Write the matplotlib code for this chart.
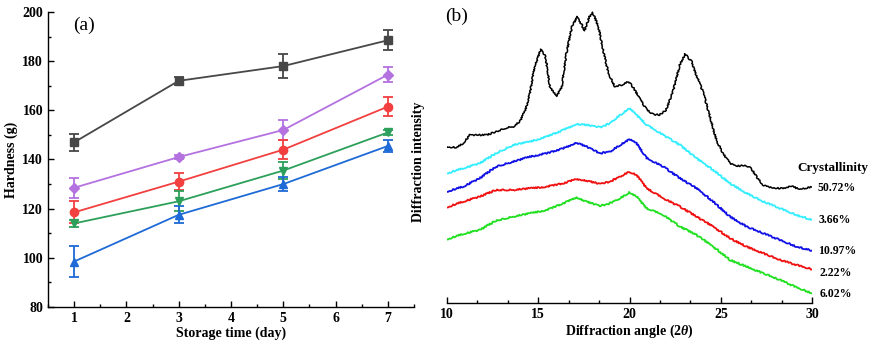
import numpy as np
import matplotlib.pyplot as plt
from matplotlib.ticker import MultipleLocator, AutoMinorLocator

plt.rcParams['font.family'] = ['Liberation Serif', 'DejaVu Serif']
plt.rcParams['mathtext.fontset'] = 'custom'
plt.rcParams['mathtext.it'] = 'Liberation Serif:italic:bold'
plt.rcParams['mathtext.rm'] = 'Liberation Serif:bold'

# ---------- (a) hardness data ----------
days = [1, 3, 5, 7]
black_h = [147, 172, 178, 188.5]
black_e = [3.5, 1.5, 5, 4]
purple_h = [128.5, 141, 152, 174.5]
purple_e = [4, 1, 4, 3]
red_h = [118.5, 131, 144, 161.5]
red_e = [4.5, 3.5, 4, 4]
green_h = [114, 123, 135.5, 151]
green_e = [1.5, 4, 3.5, 1]
blue_h = [98.5, 117.5, 130, 145.5]
blue_e = [6.5, 3.5, 3, 2.5]

# ---------- (b) XRD curves (arbitrary units) ----------
blk_x = [10, 10.55, 10.9, 11.27, 11.8, 12.2, 12.7, 13.3, 13.65, 14.0, 14.3, 14.55, 14.8,
         15.15, 15.4, 15.65, 16.0, 16.3, 16.55, 16.85, 17.15, 17.55, 17.8, 18.0, 18.3,
         18.55, 18.85, 19.2, 19.55, 19.95, 20.2, 20.6, 20.95, 21.3, 21.65, 22.0, 22.4,
         22.75, 23.05, 23.4, 23.65, 24.05, 24.4, 24.75, 25.1, 25.5, 25.85, 26.2, 26.6,
         26.95, 27.3, 27.85, 28.4, 28.85, 29.3, 29.85, 30]
blk_y = [440, 443, 430, 405, 405, 405, 395, 383, 380, 365, 330, 280, 200,
         148, 170, 260, 290, 260, 160, 80, 50, 92, 50, 38, 80,
         150, 220, 260, 255, 245, 262, 300, 330, 343, 345, 330, 270,
         195, 162, 185, 225, 280, 350, 420, 460, 490, 498, 497, 500,
         530, 555, 565, 565, 558, 568, 562, 560]

col_x = [10, 10.9, 11.8, 12.7, 13.65, 14.55, 15.47, 16.38, 17.1, 17.65, 18.39, 18.93,
         19.48, 19.99, 20.39, 20.94, 21.85, 22.76, 23.67, 24.58, 25.5, 26.41, 27.32,
         28.23, 29.14, 30]
cyan_y = [520, 505, 490, 460, 435, 425, 410, 390, 372, 375, 382, 370,
          345, 325, 345, 375, 405, 435, 475, 510, 550, 580, 605,
          625, 645, 660]
blue_y = [575, 560, 535, 500, 485, 470, 460, 445, 428, 440, 460, 455,
          435, 418, 430, 475, 500, 535, 565, 605, 650, 680, 700,
          720, 740, 752]
red_y = [622, 605, 590, 570, 570, 565, 560, 550, 537, 542, 552, 545,
         530, 515, 525, 565, 595, 620, 650, 680, 715, 740, 760,
         780, 795, 808]
green_y = [718, 702, 690, 662, 650, 640, 630, 610, 592, 605, 618, 610,
           595, 577, 590, 625, 645, 680, 705, 740, 780, 800, 820,
           840, 862, 880]

cryst_labels = ['50.72%', '3.66%', '10.97%', '2.22%', '6.02%']

fig = plt.figure(figsize=(8.69, 3.45), dpi=100)

# ---------------- panel (a) ----------------
ax1 = fig.add_axes([48 / 869, 38 / 345, 366 / 869, 295 / 345])
series = [
    (black_h, black_e, '#474747', 's'),
    (purple_h, purple_e, '#B471E0', 'D'),
    (red_h, red_e, '#F23F3F', 'o'),
    (green_h, green_e, '#2CA05A', 'v'),
    (blue_h, blue_e, '#1E6AD6', '^'),
]
for h, e, c, m in series:
    ax1.errorbar(days, h, yerr=e, color=c, marker=m,
                 markersize=6 if m != 'D' else 5, lw=1.3,
                 capsize=3.5, capthick=1.3, elinewidth=1.3)

ax1.set_xlim(0.5, 7.5)
ax1.set_ylim(80, 200)
ax1.xaxis.set_major_locator(MultipleLocator(1))
ax1.xaxis.set_minor_locator(MultipleLocator(0.5))
ax1.yaxis.set_major_locator(MultipleLocator(20))
ax1.yaxis.set_minor_locator(MultipleLocator(10))
ax1.spines['top'].set_visible(False)
ax1.spines['right'].set_visible(False)
for s in ['left', 'bottom']:
    ax1.spines[s].set_linewidth(1.0)
ax1.tick_params(which='both', direction='in', width=1.0)
ax1.tick_params(which='major', length=4.5, labelsize=10)
ax1.tick_params(which='minor', length=2.5)
for lb in ax1.get_xticklabels() + ax1.get_yticklabels():
    lb.set_fontweight('bold')
ax1.set_xlabel('Storage time (day)', fontsize=10, fontweight='bold', labelpad=1)
ax1.set_ylabel('Hardness (g)', fontsize=10, fontweight='bold', labelpad=3)
ax1.text(0.07, 0.985, '(a)', transform=ax1.transAxes, fontsize=14, va='top')

# ---------------- panel (b) ----------------
ax2 = fig.add_axes([446.7 / 869, 41.7 / 345, 365.6 / 869, 300 / 345])
to_val = lambda ys: [(910 - y) / 3 for y in ys]
ax2.plot(blk_x, to_val(blk_y), color='black', lw=1.1)
ax2.plot(col_x, to_val(cyan_y), color='#33EEFF', lw=1.3)
ax2.plot(col_x, to_val(blue_y), color='#1010E6', lw=1.3)
ax2.plot(col_x, to_val(red_y), color='#F01010', lw=1.3)
ax2.plot(col_x, to_val(green_y), color='#20E020', lw=1.3)
for ln in ax2.get_lines():
    ln.set_sketch_params(scale=0.7, length=1.5, randomness=4)

ax2.set_xlim(10, 30)
ax2.set_ylim(0, 300)
ax2.xaxis.set_major_locator(MultipleLocator(5))
ax2.xaxis.set_minor_locator(AutoMinorLocator(3))
ax2.set_yticks([])
for s in ['top', 'right', 'left']:
    ax2.spines[s].set_visible(False)
ax2.spines['bottom'].set_linewidth(1.0)
ax2.tick_params(which='both', direction='in', width=1.0)
ax2.tick_params(which='major', length=4.5, labelsize=10)
ax2.tick_params(which='minor', length=2.5)
for lb in ax2.get_xticklabels():
    lb.set_fontweight('bold')
ax2.set_xlabel(r'Diffraction angle ($2\theta$)', fontsize=10, fontweight='bold', labelpad=1)
ax2.set_ylabel('Diffraction intensity', fontsize=10, fontweight='bold')
ax2.yaxis.set_label_coords(-0.06, 0.47)
ax2.text(-0.005, 0.985, '(b)', transform=ax2.transAxes, fontsize=14, va='top')

fig.text(797 / 869, 1 - 168 / 345, 'Crystallinity', fontsize=9.5, fontweight='bold', va='center')
lab_pos = [(817, 188), (819, 220), (818, 251), (820, 273), (820, 294)]
for t, (px, py) in zip(cryst_labels, lab_pos):
    fig.text(px / 869, 1 - py / 345, t, fontsize=8.5, fontweight='bold', va='center')

fig.savefig('out.png', dpi=100)
